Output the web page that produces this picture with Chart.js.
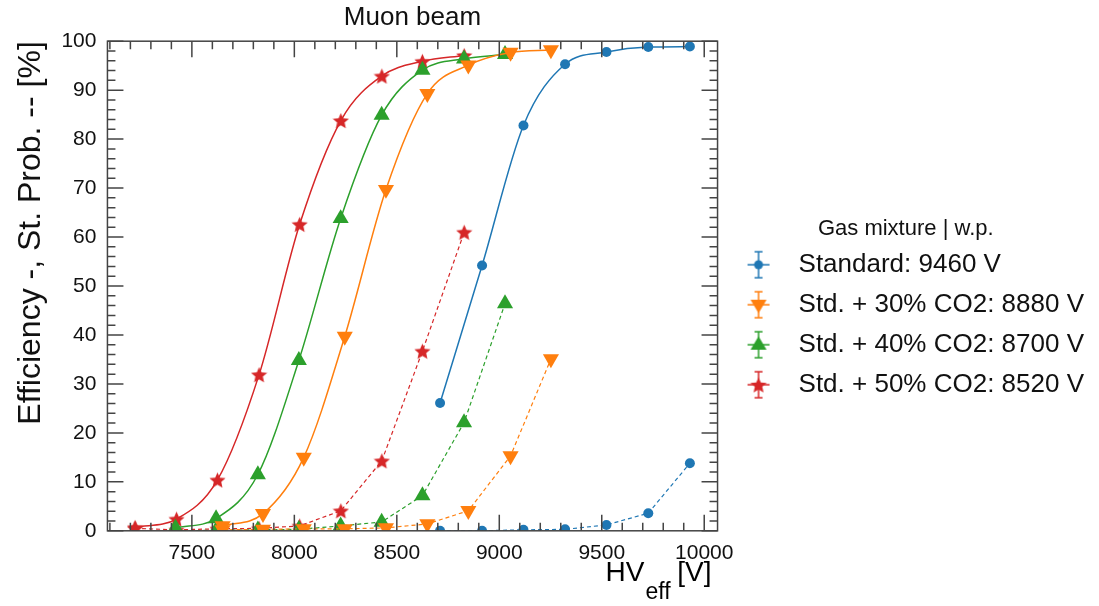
<!DOCTYPE html>
<html>
<head>
<meta charset="utf-8">
<script src="https://cdn.jsdelivr.net/npm/chart.js@4.4.1/dist/chart.umd.min.js"></script>
<style>
  html, body { margin: 0; padding: 0; background: #fff; }
  #wrap { width: 1099px; height: 606px; }
</style>
</head>
<body>
<div id="wrap"><canvas id="muonChart"></canvas></div>
<script>
// HV_eff [V] and efficiency / streamer probability [%]
var stdHV  = [8711, 8916, 9118, 9321, 9523, 9727, 9930];
var stdEff = [26.1, 54.2, 82.8, 95.3, 97.8, 98.8, 98.9];
var stdStp = [0.0, 0.0, 0.2, 0.3, 1.2, 3.6, 13.8];

var co30HV  = [7650, 7847, 8046, 8246, 8447, 8649, 8849, 9055, 9252];
var co30Eff = [1.0, 3.5, 15.0, 39.7, 69.7, 89.3, 95.1, 97.7, 98.2];
var co30Stp = [0.2, 0.3, 0.4, 0.4, 0.6, 1.4, 4.1, 15.3, 35.1];

var co40HV  = [7420, 7618, 7822, 8022, 8226, 8426, 8625, 8828, 9028];
var co40Eff = [0.6, 2.5, 11.5, 34.8, 63.8, 84.9, 94.1, 96.4, 97.3];
var co40Stp = [0.0, 0.1, 0.2, 0.3, 1.0, 1.8, 7.2, 22.1, 46.4];

var co50HV  = [7223, 7425, 7625, 7828, 8026, 8227, 8427, 8625, 8829];
var co50Eff = [0.7, 2.4, 10.4, 31.9, 62.6, 83.8, 92.9, 95.9, 97.1];
var co50Stp = [0.5, 0.2, 0.4, 0.5, 1.0, 4.1, 14.3, 36.7, 61.0];

var mixLabels = ['Standard: 9460 V', 'Std. + 30% CO2: 8880 V', 'Std. + 40% CO2: 8700 V', 'Std. + 50% CO2: 8520 V'];
var xTicks = [7500, 8000, 8500, 9000, 9500, 10000];
var yTicks = [0, 10, 20, 30, 40, 50, 60, 70, 80, 90, 100];

var colors = ['#1f77b4', '#ff7f0e', '#2ca02c', '#d62728'];
var FONT = '"Liberation Sans", Arial, Helvetica, sans-serif';
Chart.defaults.font.family = FONT;
Chart.defaults.color = '#000';

function pts(xs, ys) {
  return xs.map(function (x, i) { return { x: x, y: ys[i] }; });
}

// filled 5-point star (Chart.js 'star' is only a cross)
function drawStar(g, cx, cy, R, color) {
  var r = R * 0.46;
  g.beginPath();
  for (var i = 0; i < 10; i++) {
    var a = -Math.PI / 2 + i * Math.PI / 5;
    var rr = i % 2 ? r : R;
    g.lineTo(cx + rr * Math.cos(a), cy + rr * Math.sin(a));
  }
  g.closePath();
  g.fillStyle = color;
  g.fill();
}
function starImage(size, color) {
  var c = document.createElement('canvas');
  c.width = size; c.height = size;
  drawStar(c.getContext('2d'), size / 2, size / 2 + 0.9, size / 2, color);
  return c;
}
var redStar = starImage(17, colors[3]);

// legend icons: marker with error bar, like the original legend
function legendIcon(kind, color) {
  var c = document.createElement('canvas');
  c.width = 30; c.height = 34;
  var g = c.getContext('2d');
  var cx = 15, cy = 17;
  g.strokeStyle = color;
  g.lineWidth = 1.5;
  g.beginPath();
  g.moveTo(cx, cy - 13); g.lineTo(cx, cy + 13);
  g.moveTo(cx - 4, cy - 13); g.lineTo(cx + 4, cy - 13);
  g.moveTo(cx - 4, cy + 13); g.lineTo(cx + 4, cy + 13);
  g.moveTo(cx - 11, cy); g.lineTo(cx + 11, cy);
  g.stroke();
  g.fillStyle = color;
  g.beginPath();
  if (kind === 'circle') {
    g.arc(cx, cy, 4.5, 0, Math.PI * 2);
  } else if (kind === 'down') {
    g.moveTo(cx - 8, cy - 5); g.lineTo(cx + 8, cy - 5); g.lineTo(cx, cy + 8.5);
  } else if (kind === 'up') {
    g.moveTo(cx - 8, cy + 5); g.lineTo(cx + 8, cy + 5); g.lineTo(cx, cy - 8.5);
  }
  g.closePath();
  if (kind === 'star') {
    drawStar(g, cx, cy + 0.9, 8.5, color);
  } else {
    g.fill();
  }
  return c;
}
var legendIcons = [
  legendIcon('circle', colors[0]),
  legendIcon('down', colors[1]),
  legendIcon('up', colors[2]),
  legendIcon('star', colors[3])
];

function effSet(xs, ys, i, style, radius, rot) {
  return {
    data: pts(xs, ys), borderColor: colors[i], backgroundColor: colors[i],
    borderWidth: 1.5, cubicInterpolationMode: 'monotone',
    pointStyle: style, pointRadius: radius, pointRotation: rot || 0, pointBorderWidth: 0
  };
}
function stpSet(xs, ys, i, style, radius, rot) {
  return {
    data: pts(xs, ys), borderColor: colors[i], backgroundColor: colors[i],
    borderWidth: 1.2, borderDash: [4, 3], tension: 0,
    pointStyle: style, pointRadius: radius, pointRotation: rot || 0, pointBorderWidth: 0
  };
}

// inward ticks on all four sides plus the frame
var frameTicks = {
  id: 'frameTicks',
  afterDatasetsDraw: function (chart) {
    var ctx = chart.ctx, a = chart.chartArea;
    var xs = chart.scales.x, ys = chart.scales.y;
    ctx.save();
    ctx.strokeStyle = '#444';
    ctx.lineWidth = 1.5;
    ctx.strokeRect(a.left, a.top, a.right - a.left, a.bottom - a.top);
    ctx.beginPath();
    for (var v = 7100; v <= 10000; v += 100) {
      var px = xs.getPixelForValue(v);
      var len = v % 500 === 0 ? 16 : 8;
      ctx.moveTo(px, a.bottom); ctx.lineTo(px, a.bottom - len);
      ctx.moveTo(px, a.top); ctx.lineTo(px, a.top + len);
    }
    for (var w = 0; w <= 100; w += 2) {
      var py = ys.getPixelForValue(w);
      var l2 = w % 10 === 0 ? 16 : 8;
      ctx.moveTo(a.left, py); ctx.lineTo(a.left + l2, py);
      ctx.moveTo(a.right, py); ctx.lineTo(a.right - l2, py);
    }
    ctx.stroke();
    ctx.restore();
  },
  afterDraw: function (chart) {
    // x axis title with subscript
    var ctx = chart.ctx, a = chart.chartArea;
    ctx.save();
    ctx.fillStyle = '#000';
    ctx.textBaseline = 'alphabetic';
    ctx.font = '28px ' + FONT;
    var wHV = ctx.measureText('HV').width;
    var wV = ctx.measureText(' [V]').width;
    ctx.font = '23px ' + FONT;
    var wE = ctx.measureText('eff').width;
    var x0 = a.right - 6 - (wHV + wE + wV);
    ctx.font = '28px ' + FONT;
    ctx.fillText('HV', x0, 581);
    ctx.fillText(' [V]', x0 + wHV + wE, 581);
    ctx.font = '23px ' + FONT;
    ctx.fillText('eff', x0 + wHV + 1, 599);
    ctx.restore();
  }
};

new Chart(document.getElementById('muonChart'), {
  type: 'line',
  data: {
    datasets: [
      effSet(stdHV, stdEff, 0, 'circle', 5),
      effSet(co30HV, co30Eff, 1, 'triangle', 9.3, 180),
      effSet(co40HV, co40Eff, 2, 'triangle', 9.3),
      effSet(co50HV, co50Eff, 3, redStar, 8),
      stpSet(stdHV, stdStp, 0, 'circle', 5),
      stpSet(co30HV, co30Stp, 1, 'triangle', 9.3, 180),
      stpSet(co40HV, co40Stp, 2, 'triangle', 9.3),
      stpSet(co50HV, co50Stp, 3, redStar, 8)
    ]
  },
  options: {
    responsive: true,
    maintainAspectRatio: false,
    animation: false,
    layout: { padding: { left: 0, right: 5, top: 0, bottom: 30 } },
    scales: {
      x: {
        type: 'linear', min: 7088, max: 10065,
        afterBuildTicks: function (s) { s.ticks = xTicks.map(function (v) { return { value: v }; }); },
        grid: { display: false, drawTicks: false },
        border: { display: false },
        ticks: {
          font: { size: 21 }, padding: 10, color: '#111', maxRotation: 0,
          callback: function (v) { return String(v); }
        }
      },
      y: {
        min: 0, max: 100,
        afterBuildTicks: function (s) { s.ticks = yTicks.map(function (v) { return { value: v }; }); },
        grid: { display: false, drawTicks: false },
        border: { display: false },
        ticks: { font: { size: 21 }, padding: 11, color: '#111' },
        title: {
          display: true, text: 'Efficiency -, St. Prob. -- [%]', align: 'end',
          font: { size: 32 }, color: '#111', padding: { top: 12, bottom: 0 }
        }
      }
    },
    plugins: {
      title: {
        display: true, text: 'Muon beam', fullSize: false,
        font: { size: 26, weight: 'normal' }, color: '#111',
        padding: { top: 2, bottom: 8 }
      },
      legend: {
        position: 'right',
        align: 'center',
        maxWidth: 420,
        title: {
          display: true, text: 'Gas mixture | w.p.',
          font: { size: 22 }, color: '#111', padding: { top: 54, bottom: -7 }
        },
        labels: {
          usePointStyle: true, pointStyleWidth: 54, padding: 14,
          font: { size: 26 }, color: '#111',
          generateLabels: function () {
            return mixLabels.map(function (t, i) {
              return {
                text: t, pointStyle: legendIcons[i], fillStyle: colors[i],
                strokeStyle: colors[i], lineWidth: 0, datasetIndex: i, hidden: false, fontColor: '#111'
              };
            });
          }
        }
      },
      tooltip: { enabled: false }
    }
  },
  plugins: [frameTicks]
});
</script>
</body>
</html>
